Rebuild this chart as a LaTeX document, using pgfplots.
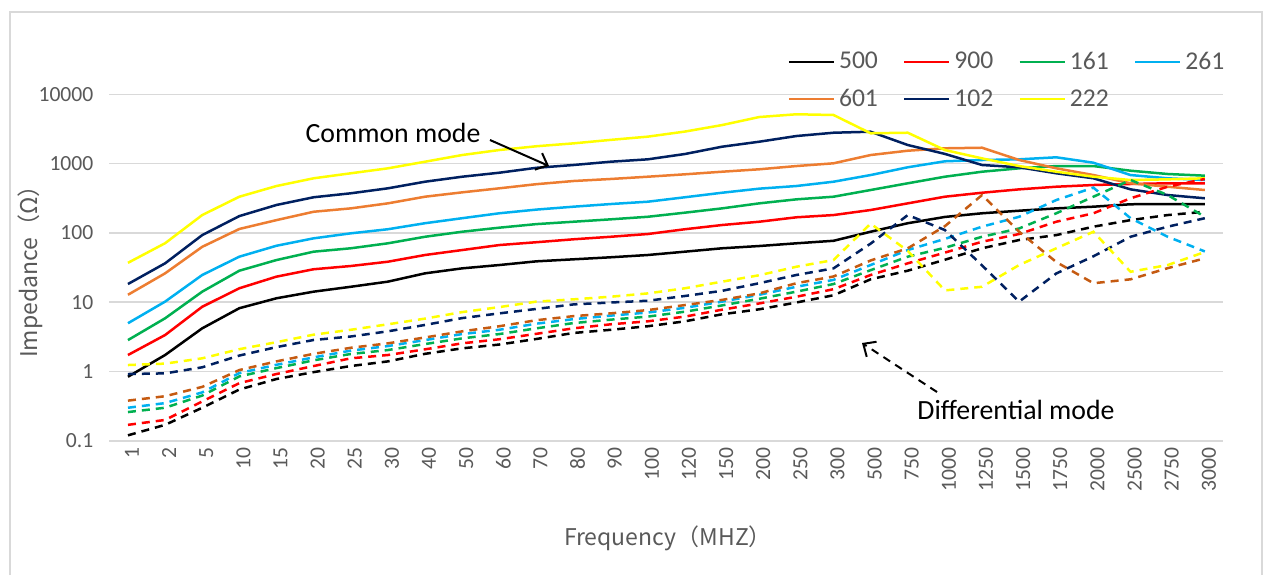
\documentclass[border=0pt]{standalone}
\usepackage{fontspec}
\setmainfont{Carlito}
\newfontfamily\cjk{Noto Sans CJK SC}
\usepackage{pgfplots}
\pgfplotsset{compat=1.18}
\usepackage{pgfplotstable}
\usetikzlibrary{arrows.meta}
\definecolor{cblack}{HTML}{000000}
\definecolor{cred}{HTML}{FF0000}
\definecolor{cgreen}{HTML}{00B050}
\definecolor{cblue}{HTML}{00B0F0}
\definecolor{corange}{HTML}{ED7D31}
\definecolor{cbrown}{HTML}{C55A11}
\definecolor{cnavy}{HTML}{002060}
\definecolor{cyellow}{HTML}{FFFF00}
\definecolor{gridgray}{HTML}{D9D9D9}
\definecolor{labelgray}{HTML}{595959}

\pgfplotstableread{
idx b r g lb o n y bd rd gd lbd od nd yd
0 0.84 1.73 2.84 4.97 12.8 18.3 37 0.12 0.17 0.26 0.30 0.38 0.92 1.24
1 1.73 3.36 5.86 10.2 26.1 36.4 71 0.17 0.20 0.30 0.35 0.44 0.94 1.30
2 4.2 8.6 14.2 24.7 63 93 181 0.30 0.37 0.45 0.50 0.60 1.15 1.55
3 8.2 15.9 28.5 45.4 114 175 333 0.55 0.68 0.85 0.95 1.05 1.70 2.10
4 11.4 23.4 40.6 65.3 153 253 475 0.78 0.92 1.12 1.25 1.40 2.25 2.65
5 14.2 29.9 53.6 83.5 202 327 614 0.98 1.20 1.45 1.60 1.80 2.85 3.40
6 16.7 33.3 60 98.6 226 373 725 1.20 1.55 1.79 2.0 2.2 3.2 4.0
7 19.8 38.4 70.8 113 267 440 855 1.40 1.73 2.04 2.33 2.55 3.8 4.8
8 26.1 48 88 138 333 548 1065 1.80 2.09 2.49 2.84 3.10 4.7 5.8
9 30.8 56.6 104 163 385 647 1330 2.16 2.55 3.01 3.47 3.80 5.9 7.2
10 34.4 66.8 119 192 440 739 1570 2.45 2.92 3.47 4.0 4.5 6.9 8.5
11 38.9 73.4 134 217 505 870 1780 2.95 3.5 4.2 4.9 5.5 8.0 10.2
12 41.6 80.9 145 239 561 955 1960 3.6 4.2 5.0 5.7 6.3 9.3 11
13 44.5 88 157 261 600 1065 2200 4.0 4.8 5.6 6.4 6.9 9.9 12
14 48 96.4 171 282 647 1153 2450 4.5 5.3 6.2 7.1 7.7 10.5 13.4
15 53.6 113 196 327 701 1376 2900 5.3 6.2 7.3 8.3 9.1 12.3 15.9
16 60 130 226 380 764 1754 3600 6.7 7.8 9.0 10.2 10.8 14.6 19.8
17 64.7 145 267 435 828 2070 4700 7.9 9.6 11.2 12.8 13.4 18.8 24.5
18 70.8 168 305 475 922 2500 5150 9.9 12 14.2 16.7 18.8 24.7 32.5
19 77 181 333 548 1010 2790 5030 12.6 15.4 18.3 21 23.5 30.8 40.6
20 104 214 416 684 1330 2885 2740 21.4 24.7 29 34.4 40 70 136
21 138 267 520 885 1535 1855 2790 28.5 36.4 45.4 56.6 60 181 55
22 170 333 647 1080 1663 1380 1570 41 52 61 82 125 110 14.8
23 192 380 764 1127 1695 955 1190 60 74.6 88 123 352 34 16.7
24 209 425 855 1153 1127 885 922 79 96.4 116 171 104 10.2 34.4
25 226 464 922 1233 855 725 764 93 145 192 298 38 26 60
26 239 491 922 1030 684 614 647 123 192 333 450 18.8 46 104
27 259 508 790 684 520 425 580 153 316 580 163 21.4 88 27.5
28 261 520 708 614 464 352 593 181 464 352 88 31 123 34.4
29 261 520 670 580 416 316 614 202 600 171 54 43 163 53
}\data

\begin{document}
\begin{tikzpicture}
\path[use as bounding box] (0pt,0pt) rectangle (635pt,-287.5pt);
\draw[gridgray, line width=0.6pt] (5pt,-287.5pt) -- (5pt,-6pt) -- (631pt,-6pt) -- (631pt,-287.5pt);
\begin{axis}[
  at={(54.7pt,-220.4pt)}, anchor=south west,
  scale only axis, width=557pt, height=173.25pt,
  ymode=log, ymin=0.1, ymax=10000,
  xmin=-0.5, xmax=29.5,
  xtick={0,...,29},
  xticklabels={1,2,5,10,15,20,25,30,40,50,60,70,80,90,100,120,150,200,250,300,500,750,1000,1250,1500,1750,2000,2500,2750,3000},
  ytick={0.1,1,10,100,1000,10000},
  yticklabels={0.1,1,10,100,1000,10000},
  yminorticks=false,
  axis line style={draw=none},
  major tick length=0pt,
  ymajorgrids, grid style={gridgray, line width=0.75pt},
  tick label style={font=\fontsize{10.8}{12}\selectfont, text=labelgray},
  xticklabel style={rotate=90, anchor=east, yshift=-2pt},
  yticklabel style={xshift=-4.5pt},
  legend columns=4,
  legend style={at={(0.603,1.147)}, anchor=north west, draw=none, fill=none,
    font=\fontsize{12.8}{15}\selectfont, text=labelgray,
    /tikz/every even column/.append style={column sep=10.5pt},
    row sep=4.5pt},
  legend image code/.code={\draw[#1] (0pt,0pt) -- (22.5pt,0pt);},
  every axis plot/.append style={line width=1.25pt, mark=none},
]
\addplot[cblack] table[x=idx,y=b] {\data}; \addlegendentry{500}
\addplot[cred] table[x=idx,y=r] {\data}; \addlegendentry{900}
\addplot[cgreen] table[x=idx,y=g] {\data}; \addlegendentry{161}
\addplot[cblue] table[x=idx,y=lb] {\data}; \addlegendentry{261}
\addplot[corange] table[x=idx,y=o] {\data}; \addlegendentry{601}
\addplot[cnavy] table[x=idx,y=n] {\data}; \addlegendentry{102}
\addplot[cyellow] table[x=idx,y=y] {\data}; \addlegendentry{222}
\addplot[cblack, dash pattern=on 4pt off 3pt, forget plot] table[x=idx,y=bd] {\data};
\addplot[cred, dash pattern=on 4pt off 3pt, forget plot] table[x=idx,y=rd] {\data};
\addplot[cgreen, dash pattern=on 4pt off 3pt, forget plot] table[x=idx,y=gd] {\data};
\addplot[cblue, dash pattern=on 4pt off 3pt, forget plot] table[x=idx,y=lbd] {\data};
\addplot[cbrown, dash pattern=on 4pt off 3pt, forget plot] table[x=idx,y=od] {\data};
\addplot[cnavy, dash pattern=on 4pt off 3pt, forget plot] table[x=idx,y=nd] {\data};
\addplot[cyellow, dash pattern=on 4pt off 3pt, forget plot] table[x=idx,y=yd] {\data};
\end{axis}
\node[font=\fontsize{13.9}{16}\selectfont] at (196.5pt,-66.5pt) {Common mode};
\draw[line width=1pt, -{Straight Barb[length=5pt,width=9pt]}] (245pt,-70pt) -- (274.5pt,-83pt);
\node[font=\fontsize{13.9}{16}\selectfont] at (508pt,-205pt) {Differential mode};
\draw[line width=1pt, dash pattern=on 4pt off 3pt, -{Straight Barb[length=5pt,width=9pt]}] (468.5pt,-196pt) -- (431pt,-171.5pt);
\node[rotate=90, font=\cjk\fontsize{11.5}{13}\selectfont, text=labelgray] at (15pt,-133pt) {Impedance（Ω）};
\node[font=\cjk\fontsize{11.5}{13}\selectfont, text=labelgray] at (334pt,-269pt) {Frequency（MHZ）};
\end{tikzpicture}
\end{document}
